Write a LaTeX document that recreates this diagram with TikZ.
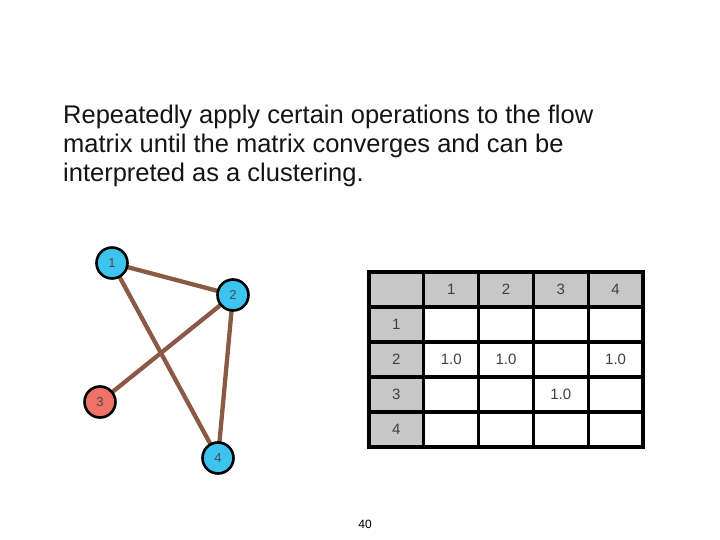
\documentclass[tikz,border=0pt]{standalone}
\usepackage{fontspec}
\setmainfont{Liberation Sans}
\begin{document}
\begin{tikzpicture}[x=1pt,y=-1pt,
  vert/.style={circle,draw=black,line width=2.6pt,minimum size=31pt,inner sep=0pt,font=\fontsize{13}{15}\selectfont,text=black!70},
  edge/.style={draw=edgec,line width=4.3pt},
  cell/.style={draw=black,line width=3.3pt,minimum width=54.8pt,minimum height=35pt,inner sep=0pt},
  hdr/.style={cell,fill=black!22},
  num/.style={font=\fontsize{15}{17}\selectfont,text=black!75},
  line/.style={anchor=base west,inner sep=0pt,font=\fontsize{25.5}{29}\selectfont,text=black!92}]
\useasboundingbox (0,0) rectangle (720,540);
\definecolor{nblue}{HTML}{3CC3F0}
\definecolor{nred}{HTML}{F07268}
\definecolor{edgec}{HTML}{8B5A44}
\node[line] (l1) at (63,124) {Repeatedly apply certain operations to the flow};
\node[line] (l2) at (63,153) {matrix until the matrix converges and can be};
\node[line] (l3) at (63,182) {interpreted as a clustering.};
% graph
\coordinate (p1) at (112,263);
\coordinate (p2) at (233,295);
\coordinate (p3) at (100,402);
\coordinate (p4) at (218,458);
\draw[edge] (p1) -- (p2);
\draw[edge] (p1) -- (p4);
\draw[edge] (p2) -- (p3);
\draw[edge] (p2) -- (p4);
\node[vert,fill=nblue] (n1) at (p1) {1};
\node[vert,fill=nblue] (n2) at (p2) {2};
\node[vert,fill=nred] (n3) at (p3) {3};
\node[vert,fill=nblue] (n4) at (p4) {4};
% table
\foreach \c in {0,...,4}{
  \foreach \r in {0,...,4}{
    \pgfmathsetmacro{\cx}{369+54.8*\c+27.4}
    \pgfmathsetmacro{\cy}{272+35*\r+17.5}
    \ifnum\c=0 \def\st{hdr}\else\ifnum\r=0 \def\st{hdr}\else\def\st{cell}\fi\fi
    \node[\st] (t\r\c) at (\cx,\cy) {};
  }
}
\foreach \c in {1,...,4}{\node[num] at (t0\c) {\c};}
\foreach \r in {1,...,4}{\node[num] at (t\r0) {\r};}
\node[num] at (t21) {1.0};
\node[num] at (t22) {1.0};
\node[num] at (t24) {1.0};
\node[num] at (t33) {1.0};
\node[font=\fontsize{12}{14}\selectfont] (pg) at (365,524) {40};
\end{tikzpicture}
\end{document}
